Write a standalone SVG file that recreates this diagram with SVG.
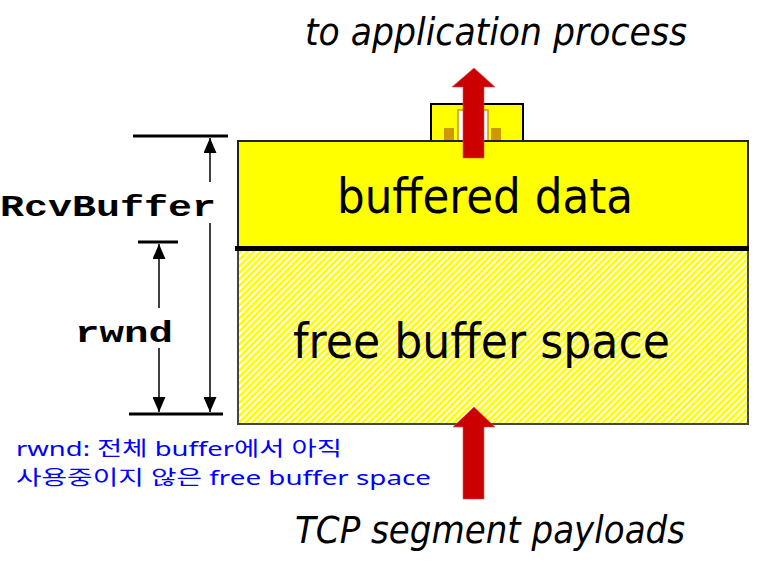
<svg xmlns="http://www.w3.org/2000/svg" width="770" height="562" viewBox="0 0 770 562">
<style>
.ital{font-family:Tahoma,"DejaVu Sans","Noto Sans",sans-serif;font-style:italic;font-size:37px;fill:#000}
.big{font-family:Tahoma,"DejaVu Sans","Noto Sans",sans-serif;font-size:48px;fill:#000}
.mono{font-family:"Liberation Mono","Courier New",monospace;font-weight:bold;font-size:29px;fill:#000}
.kor{font-family:"Noto Sans","Noto Sans CJK KR",sans-serif;font-size:20px;fill:#0000FF}
.dim{stroke:#000;stroke-width:1.5;fill:none}
.bar{stroke:#000;stroke-width:3}
.red{fill:#CC0000;stroke:#E05050;stroke-width:0.6}
</style>
<defs>
<pattern id="hatch" patternUnits="userSpaceOnUse" width="4.6" height="10" patternTransform="rotate(45)">
<rect width="4.6" height="10" fill="#FFFF00"/>
<rect width="1.9" height="10" fill="#FFFFFF"/>
</pattern>
<marker id="ah" viewBox="0 0 15 13" refX="15" refY="6.5" markerWidth="15" markerHeight="13" markerUnits="userSpaceOnUse" orient="auto">
<path d="M0,0 L15,6.5 L0,13 Z" fill="#000"/>
</marker>
</defs>

<g id="app-slot">
<rect x="431" y="104" width="92" height="38" fill="#FFFF00" stroke="#000" stroke-width="2"/>
<rect x="458" y="110" width="30" height="32" fill="#FFFFFF" stroke="#CC9900" stroke-width="1.5"/>
<rect x="444" y="128" width="10" height="13" fill="#CC9900"/>
<rect x="491" y="128" width="10" height="13" fill="#CC9900"/>
</g>

<g id="buffered-data">
<rect x="238" y="141" width="510" height="107" fill="#FFFF00" stroke="#222" stroke-width="2"/>
<text class="big" x="337" y="213" textLength="296" lengthAdjust="spacingAndGlyphs">buffered data</text>
</g>

<g id="free-buffer-space">
<rect x="238" y="249" width="510" height="175" fill="url(#hatch)" stroke="#444" stroke-width="2"/>
<line x1="235" y1="248.5" x2="749" y2="248.5" stroke="#000" stroke-width="5"/>
<text class="big" x="293" y="358" textLength="377" lengthAdjust="spacingAndGlyphs">free buffer space</text>
</g>

<g id="to-application-process">
<polygon class="red" points="474,68 495,87 484,87 484,158 463,158 463,87 452,87"/>
<text class="ital" x="305" y="45" textLength="382" lengthAdjust="spacingAndGlyphs">to application process</text>
</g>

<g id="tcp-segment-payloads">
<polygon class="red" points="474,407 495,427 484,427 484,499 463,499 463,427 453,427"/>
<text class="ital" x="295" y="543" textLength="390" lengthAdjust="spacingAndGlyphs">TCP segment payloads</text>
</g>

<g id="rcvbuffer-label">
<text class="mono" x="0" y="216" textLength="216" lengthAdjust="spacingAndGlyphs">RcvBuffer</text>
</g>

<g id="rwnd-label">
<text class="mono" x="75" y="342" textLength="98" lengthAdjust="spacingAndGlyphs">rwnd</text>
</g>

<g id="note">
<text class="kor" x="16" y="456" textLength="326" lengthAdjust="spacingAndGlyphs">rwnd: 전체 buffer에서 아직</text>
<text class="kor" x="16" y="485" textLength="415" lengthAdjust="spacingAndGlyphs">사용중이지 않은 free buffer space</text>
</g>

<g id="connectors">
<line class="bar" x1="133" y1="136" x2="228" y2="136"/>
<line class="bar" x1="129" y1="414" x2="223" y2="414"/>
<line class="bar" x1="138" y1="242" x2="178" y2="242"/>
<line class="dim" x1="210" y1="182" x2="210" y2="138" marker-end="url(#ah)"/>
<line class="dim" x1="210" y1="223" x2="210" y2="412" marker-end="url(#ah)"/>
<line class="dim" x1="159" y1="308" x2="159" y2="244" marker-end="url(#ah)"/>
<line class="dim" x1="159" y1="348" x2="159" y2="412" marker-end="url(#ah)"/>
</g>
</svg>
